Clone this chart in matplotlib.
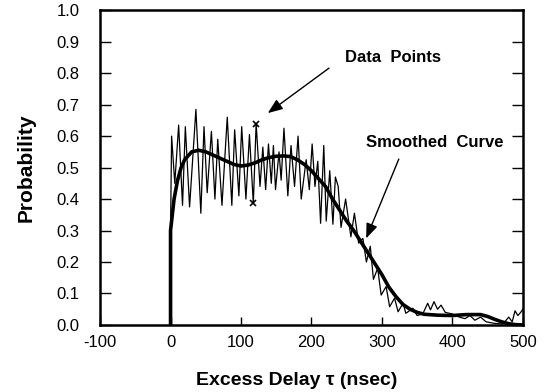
import matplotlib
matplotlib.use("Agg")
import matplotlib.pyplot as plt

plt.rcParams['font.family'] = ['Liberation Sans', 'DejaVu Sans']

# Measured data points (excess delay in ns, probability)
data_delay = [0, 0, 1.5, 6, 11.5, 17, 21, 27, 36, 43, 47.5, 52, 58, 63, 67, 73,
              80.5, 87, 91, 97, 101, 107, 112, 117.5, 121.5, 127, 131, 135, 139,
              143, 146, 149, 154, 157, 161, 166.5, 171, 176, 181, 185.5, 192.5,
              197, 201, 205, 209, 213, 217.5, 221, 226, 230.5, 234, 238, 242,
              248.5, 256, 261, 267, 273, 278, 283.5, 288, 294, 299, 306, 311,
              318, 323, 330, 334, 344, 350, 358, 365, 369, 374, 379, 384, 390,
              400, 410, 418, 425, 432, 440, 448, 460, 472, 480, 485, 489, 493,
              497, 500]
data_prob = [0.0, 0.30, 0.60, 0.45, 0.635, 0.38, 0.63, 0.375, 0.685, 0.355, 0.63,
             0.42, 0.615, 0.40, 0.59, 0.38, 0.66, 0.38, 0.62, 0.41, 0.63, 0.40,
             0.605, 0.386, 0.64, 0.44, 0.565, 0.43, 0.575, 0.45, 0.57, 0.43, 0.55,
             0.46, 0.625, 0.41, 0.57, 0.44, 0.60, 0.40, 0.525, 0.43, 0.575, 0.44,
             0.52, 0.323, 0.57, 0.33, 0.49, 0.32, 0.47, 0.44, 0.31, 0.40, 0.28,
             0.355, 0.26, 0.275, 0.20, 0.25, 0.145, 0.18, 0.095, 0.122, 0.058,
             0.085, 0.042, 0.069, 0.037, 0.053, 0.03, 0.035, 0.069, 0.048, 0.074,
             0.05, 0.063, 0.04, 0.035, 0.025, 0.02, 0.03, 0.015, 0.025, 0.01,
             0.005, 0.003, 0.025, 0.01, 0.045, 0.03, 0.04, 0.05]

# Smoothed curve
smooth_delay = [0, 0, 5, 10, 15, 20, 30, 40, 50, 60, 70, 80, 90, 100, 110, 120,
                130, 140, 150, 160, 170, 180, 190, 200, 210, 220, 230, 240, 250,
                260, 270, 280, 290, 300, 310, 320, 330, 340, 350, 360, 380, 400,
                420, 440, 450, 460, 470, 480, 490, 500]
smooth_prob = [0.0, 0.30, 0.40, 0.46, 0.50, 0.525, 0.55, 0.555, 0.55, 0.54, 0.53,
               0.52, 0.51, 0.505, 0.508, 0.515, 0.525, 0.532, 0.536, 0.537, 0.535,
               0.525, 0.51, 0.49, 0.465, 0.44, 0.40, 0.365, 0.33, 0.30, 0.265,
               0.23, 0.195, 0.16, 0.12, 0.09, 0.065, 0.05, 0.04, 0.034, 0.031,
               0.03, 0.033, 0.033, 0.027, 0.018, 0.01, 0.004, 0.001, 0.0]

marked_delay = [117.5, 121.5]
marked_prob = [0.386, 0.64]

xticks = [-100, 0, 100, 200, 300, 400, 500]
yticks = [0.0, 0.1, 0.2, 0.3, 0.4, 0.5, 0.6, 0.7, 0.8, 0.9, 1.0]

fig = plt.figure(figsize=(5.44, 3.92), dpi=100)
ax = fig.add_axes([0.184, 0.171, 0.777, 0.803])

ax.plot(data_delay, data_prob, color='black', lw=0.9)
ax.plot(smooth_delay, smooth_prob, color='black', lw=2.6)
ax.plot(marked_delay, marked_prob, linestyle='none', marker='x', color='black',
        markersize=4, mew=1.2)

ax.set_xlim(-100, 500)
ax.set_ylim(0, 1.0)
ax.set_xticks(xticks)
ax.set_xticklabels([str(v) for v in xticks])
ax.set_yticks(yticks)
ax.set_yticklabels([f"{v:.1f}" for v in yticks])
ax.tick_params(axis='both', direction='in', labelsize=12, width=1.0, colors='black')
ax.tick_params(axis='y', length=8, right=True, pad=15)
ax.tick_params(axis='x', length=6, pad=7)
for s in ax.spines.values():
    s.set_linewidth(1.8)

ax.set_xlabel("Excess Delay \u03c4 (nsec)", fontsize=14, fontweight='bold')
ax.xaxis.set_label_coords(0.466, -0.15)
ax.set_ylabel("Probability", fontsize=15, fontweight='bold', labelpad=15)

ax.annotate("", xy=(138, 0.673), xytext=(225, 0.816),
            arrowprops=dict(arrowstyle='-|>,head_length=0.9,head_width=0.35',
                            color='black', lw=1.0, shrinkA=0, shrinkB=0))
ax.text(247.5, 0.851, "Data  Points", fontsize=12, fontweight='bold', ha='left', va='center')

ax.annotate("", xy=(277.7, 0.275), xytext=(324, 0.527),
            arrowprops=dict(arrowstyle='-|>,head_length=0.9,head_width=0.35',
                            color='black', lw=1.0, shrinkA=0, shrinkB=0))
ax.text(277, 0.581, "Smoothed  Curve", fontsize=12, fontweight='bold', ha='left', va='center')

fig.savefig("out.png", dpi=100)
